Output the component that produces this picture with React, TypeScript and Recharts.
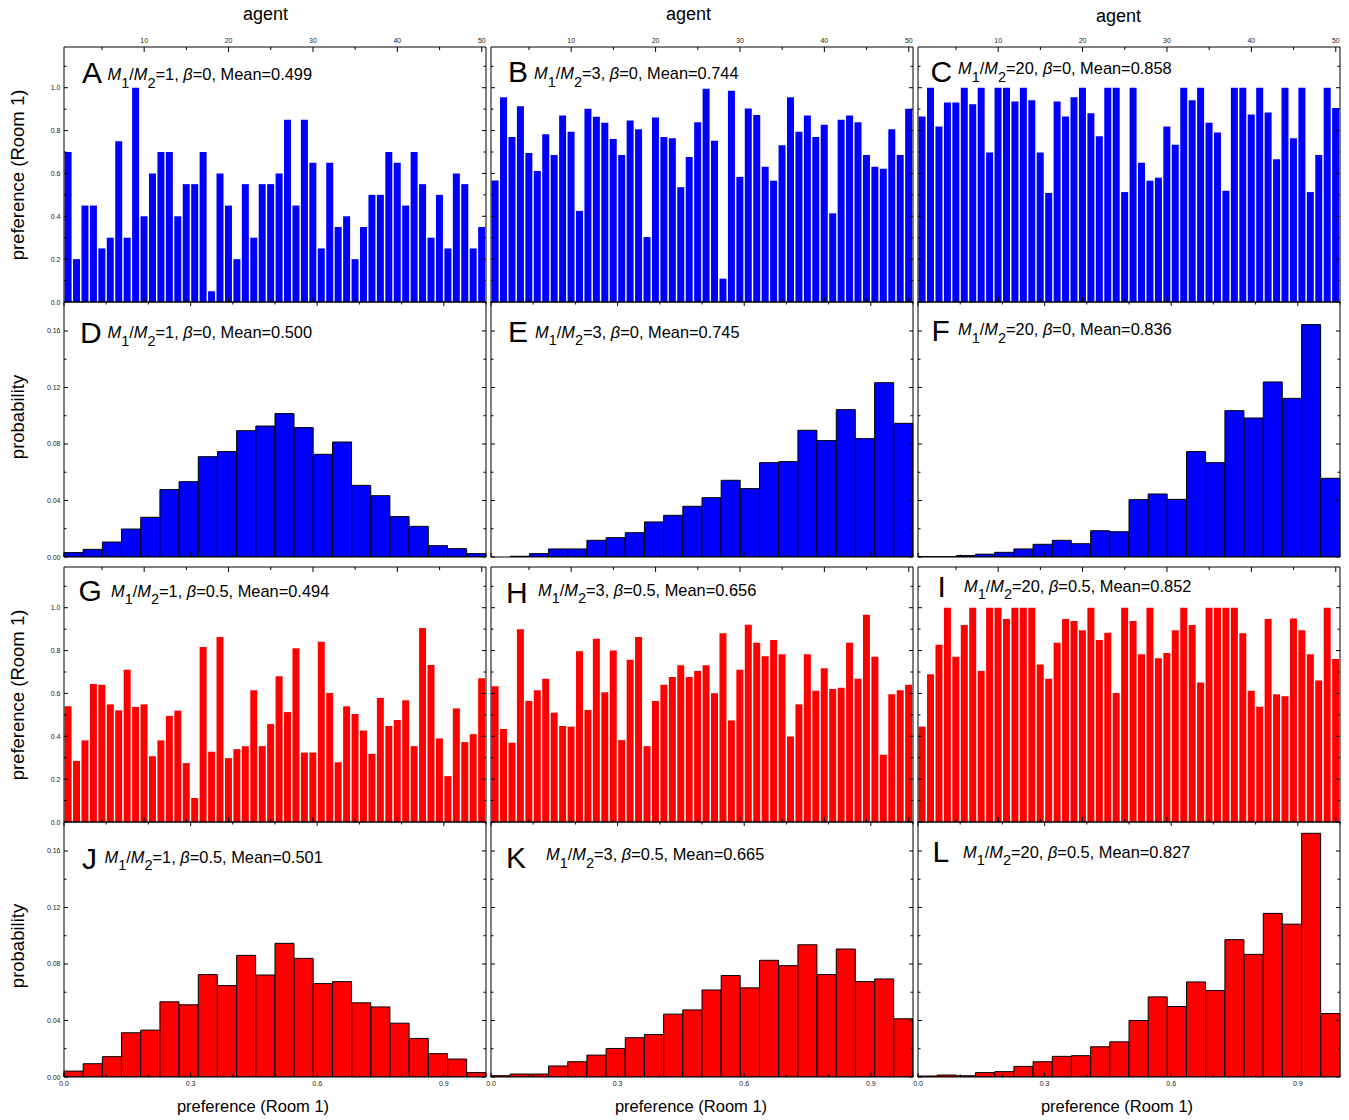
import React from 'react';
import { BarChart, Bar, XAxis, YAxis } from 'recharts';

const FONT = '"Liberation Sans", Arial, Helvetica, sans-serif';
const BLUE = '#0000FF';
const RED = '#FF0000';

// ---------- categories ----------
const agents = [
  1, 2, 3, 4, 5, 6, 7, 8, 9, 10, 11, 12, 13, 14, 15, 16, 17, 18, 19, 20, 21, 22, 23, 24, 25,
  26, 27, 28, 29, 30, 31, 32, 33, 34, 35, 36, 37, 38, 39, 40, 41, 42, 43, 44, 45, 46, 47, 48, 49, 50,
];
const bins = [1, 2, 3, 4, 5, 6, 7, 8, 9, 10, 11, 12, 13, 14, 15, 16, 17, 18, 19, 20, 21, 22];
// preference value at the centre of each histogram bin
const binCenters = [
  0.0227, 0.0682, 0.1136, 0.1591, 0.2045, 0.25, 0.2955, 0.3409, 0.3864, 0.4318, 0.4773, 0.5227, 0.5682, 0.6136,
  0.6591, 0.7045, 0.75, 0.7955, 0.8409, 0.8864, 0.9318, 0.9773,
];

// ---------- preference of each agent (Room 1) ----------
const prefA = [
  0.7, 0.2, 0.45, 0.45, 0.25, 0.3, 0.75, 0.3, 1.0, 0.4, 0.6, 0.7, 0.7, 0.4, 0.55, 0.55, 0.7, 0.05, 0.6, 0.45,
  0.2, 0.55, 0.3, 0.55, 0.55, 0.6, 0.85, 0.45, 0.85, 0.65, 0.25, 0.65, 0.35, 0.4, 0.2, 0.35, 0.5, 0.5, 0.7, 0.65,
  0.45, 0.7, 0.55, 0.3, 0.5, 0.25, 0.6, 0.55, 0.25, 0.35,
];
const prefB = [
  0.567, 0.956, 0.77, 0.914, 0.695, 0.611, 0.783, 0.686, 0.87, 0.795, 0.425, 0.902, 0.864, 0.836, 0.761, 0.686,
  0.847, 0.806, 0.303, 0.861, 0.77, 0.764, 0.536, 0.677, 0.839, 0.995, 0.752, 0.109, 0.986, 0.584, 0.903, 0.873,
  0.631, 0.566, 0.731, 0.956, 0.795, 0.87, 0.77, 0.827, 0.414, 0.85, 0.87, 0.839, 0.686, 0.631, 0.622, 0.806,
  0.686, 0.902,
];
const prefC = [
  0.866, 1, 0.819, 0.931, 0.931, 1, 0.923, 1, 0.698, 1, 1, 0.936, 1, 0.941, 0.698, 0.509, 0.936, 0.866, 0.956, 1,
  0.881, 0.773, 1, 1, 0.513, 1, 0.65, 0.566, 0.58, 0.819, 0.734, 1, 0.941, 1, 0.836, 0.791, 0.519, 1, 1, 0.875, 1,
  0.884, 0.666, 1, 0.764, 1, 0.513, 0.686, 1, 0.905,
];
const prefG = [
  0.54, 0.285, 0.381, 0.644, 0.64, 0.549, 0.521, 0.71, 0.537, 0.549, 0.307, 0.381, 0.495, 0.52, 0.275, 0.112,
  0.817, 0.328, 0.863, 0.298, 0.34, 0.354, 0.615, 0.354, 0.457, 0.68, 0.513, 0.811, 0.324, 0.324, 0.841, 0.602,
  0.279, 0.54, 0.504, 0.427, 0.318, 0.579, 0.448, 0.476, 0.568, 0.354, 0.905, 0.733, 0.39, 0.214, 0.53, 0.373,
  0.41, 0.671,
];
const prefH = [
  0.633, 0.434, 0.37, 0.9, 0.565, 0.615, 0.668, 0.51, 0.448, 0.445, 0.797, 0.523, 0.855, 0.605, 0.8, 0.382,
  0.757, 0.863, 0.354, 0.565, 0.64, 0.677, 0.732, 0.677, 0.705, 0.732, 0.601, 0.881, 0.474, 0.71, 0.92, 0.836,
  0.774, 0.849, 0.783, 0.399, 0.549, 0.783, 0.612, 0.718, 0.621, 0.626, 0.836, 0.668, 0.967, 0.771, 0.314, 0.596,
  0.615, 0.64,
];
const prefI = [
  0.445, 0.69, 0.827, 1, 0.771, 0.919, 1, 0.705, 1, 1, 0.947, 1, 1, 1, 0.735, 0.668, 0.836, 0.947, 0.938, 0.895,
  1, 0.849, 0.883, 0.602, 1, 0.938, 0.783, 1, 0.764, 0.789, 0.895, 1, 0.919, 0.651, 1, 1, 1, 1, 0.881, 0.612,
  0.538, 0.947, 0.596, 0.587, 0.95, 0.895, 0.783, 0.66, 1, 0.761,
];

// ---------- probability histograms (22 bins over 0..1) ----------
const probD = [
  0.0031, 0.0054, 0.0106, 0.0198, 0.0281, 0.0477, 0.0533, 0.071, 0.0746, 0.0894, 0.0927, 0.1015, 0.0916, 0.0727,
  0.0814, 0.0507, 0.0434, 0.0286, 0.0217, 0.008, 0.0059, 0.0024,
];
const probE = [
  0, 0.0005, 0.0024, 0.0057, 0.0057, 0.0118, 0.0137, 0.0172, 0.0248, 0.0295, 0.0359, 0.042, 0.0543, 0.0484,
  0.0668, 0.0675, 0.0897, 0.0824, 0.1043, 0.0838, 0.1234, 0.0946,
];
const probF = [
  0.0002, 0.0002, 0.001, 0.002, 0.0033, 0.0057, 0.009, 0.0118, 0.0094, 0.0186, 0.0179, 0.0406, 0.0446, 0.0408,
  0.0746, 0.0668, 0.1036, 0.0984, 0.1239, 0.1123, 0.1645, 0.0557,
];
const probJ = [
  0.0042, 0.0094, 0.0144, 0.0313, 0.0332, 0.0532, 0.0511, 0.0725, 0.0647, 0.0861, 0.0722, 0.0946, 0.084, 0.0661,
  0.0675, 0.0525, 0.0496, 0.0381, 0.0273, 0.0165, 0.0127, 0.0031,
];
const probK = [
  0.0009, 0.0021, 0.0021, 0.0078, 0.0108, 0.0155, 0.0202, 0.0278, 0.0301, 0.0445, 0.0475, 0.0616, 0.0718, 0.0631,
  0.0826, 0.0788, 0.0936, 0.0725, 0.0906, 0.0675, 0.0694, 0.0412,
];
const probL = [
  0.0007, 0.0014, 0.0009, 0.0031, 0.0038, 0.0075, 0.0108, 0.0146, 0.0151, 0.0214, 0.0249, 0.04, 0.0567, 0.0499,
  0.0673, 0.0612, 0.0972, 0.0868, 0.1158, 0.1082, 0.1725, 0.0449,
];

// ---------- ticks ----------
const prefTicks = [0, 0.1, 0.2, 0.3, 0.4, 0.5, 0.6, 0.7, 0.8, 0.9, 1.0, 1.1];
const prefLabelTicks = [0, 0.2, 0.4, 0.6, 0.8, 1.0];
const probTicks = [0, 0.02, 0.04, 0.06, 0.08, 0.1, 0.12, 0.14, 0.16];
const probLabelTicks = [0, 0.04, 0.08, 0.12, 0.16];
const valTicks = [0, 0.1, 0.2, 0.3, 0.4, 0.5, 0.6, 0.7, 0.8, 0.9, 1.0];
const valLabelTicks = [0, 0.3, 0.6, 0.9];
const agentLabelStep = 10;
const agentTickStep = 5;
const PREF_MAX = 1.19;
const PROB_MAX = 0.1805;

// ---------- panel annotation texts ----------
const panelLetters = ['A', 'B', 'C', 'D', 'E', 'F', 'G', 'H', 'I', 'J', 'K', 'L'];
const massRatios = ['1', '3', '20', '1', '3', '20', '1', '3', '20', '1', '3', '20'];
const betas = ['0', '0', '0', '0', '0', '0', '0.5', '0.5', '0.5', '0.5', '0.5', '0.5'];
const means = ['0.499', '0.744', '0.858', '0.500', '0.745', '0.836', '0.494', '0.656', '0.852', '0.501', '0.665', '0.827'];

// ---------- layout ----------
const PW = 422;
const PH = 255;
const ML = 40;
const MR = 10;
const MT = 20;
const MB = 20;
const colLefts = [64, 491, 918];
const rowTops = [47, 302, 567, 822];

// letter x, letter baseline, text x, text baseline
const annotLayout = [
  [82, 83.3, 107.5, 80],
  [508, 81.7, 534, 79.3],
  [930.5, 81.5, 958, 74.3],
  [80, 343.3, 107.5, 338.3],
  [508, 341.7, 535, 337.7],
  [931.5, 340.7, 958, 335],
  [78.5, 600.7, 111, 596.7],
  [506, 602.7, 538, 595.7],
  [937.5, 596.7, 964, 591.7],
  [82, 869.3, 104.5, 862.7],
  [506, 867.7, 546, 860],
  [932.5, 861.7, 963, 857.7],
];

type PanelDef = { values: number[]; kind: 'pref' | 'prob'; color: string; row: number; col: number };
const panels: PanelDef[] = [
  { values: prefA, kind: 'pref', color: BLUE, row: 0, col: 0 },
  { values: prefB, kind: 'pref', color: BLUE, row: 0, col: 1 },
  { values: prefC, kind: 'pref', color: BLUE, row: 0, col: 2 },
  { values: probD, kind: 'prob', color: BLUE, row: 1, col: 0 },
  { values: probE, kind: 'prob', color: BLUE, row: 1, col: 1 },
  { values: probF, kind: 'prob', color: BLUE, row: 1, col: 2 },
  { values: prefG, kind: 'pref', color: RED, row: 2, col: 0 },
  { values: prefH, kind: 'pref', color: RED, row: 2, col: 1 },
  { values: prefI, kind: 'pref', color: RED, row: 2, col: 2 },
  { values: probJ, kind: 'prob', color: RED, row: 3, col: 0 },
  { values: probK, kind: 'prob', color: RED, row: 3, col: 1 },
  { values: probL, kind: 'prob', color: RED, row: 3, col: 2 },
];

const near = (arr: number[], v: number) => arr.some((a) => Math.abs(a - v) < 1e-9);
const AXIS = { stroke: '#000', strokeWidth: 1 };
const TICK_FILL = '#222';

const yTick = (side: 'left' | 'right', labels: number[], digits: number, show: boolean) => (props: any) => {
  const { x, y, payload } = props;
  const v = Number(payload.value);
  const major = near(labels, v);
  const len = major ? 4 : 2.5;
  const dir = side === 'left' ? 1 : -1;
  return (
    <g>
      <line x1={x} y1={y} x2={x + dir * len} y2={y} stroke="#000" strokeWidth={1} />
      {show && major && side === 'left' ? (
        <text x={x - 3.5} y={y} textAnchor="end" dominantBaseline="central" fontSize={7} fontFamily={FONT} fill={TICK_FILL}>
          {v.toFixed(digits)}
        </text>
      ) : null}
    </g>
  );
};

const agentTick = (side: 'top' | 'bottom', show: boolean) => (props: any) => {
  const { x, y, payload } = props;
  const v = Number(payload.value);
  if (v % agentTickStep !== 0) return <g />;
  const major = v % agentLabelStep === 0;
  const len = major ? 5 : 3;
  const dir = side === 'top' ? 1 : -1;
  return (
    <g>
      <line x1={x} y1={y} x2={x} y2={y + dir * len} stroke="#000" strokeWidth={1} />
      {show && major && side === 'top' ? (
        <text x={x} y={y - 7} textAnchor="middle" dominantBaseline="central" fontSize={7} fontFamily={FONT} fill={TICK_FILL}>
          {v}
        </text>
      ) : null}
    </g>
  );
};

const valTick = (side: 'top' | 'bottom', show: boolean) => (props: any) => {
  const { x, y, payload } = props;
  const v = Number(payload.value);
  const major = near(valLabelTicks, v);
  const len = major ? 4 : 2.5;
  const dir = side === 'top' ? 1 : -1;
  return (
    <g>
      <line x1={x} y1={y} x2={x} y2={y + dir * len} stroke="#000" strokeWidth={1} />
      {show && major && side === 'bottom' ? (
        <text x={x} y={y + 6.5} textAnchor="middle" dominantBaseline="central" fontSize={7} fontFamily={FONT} fill={TICK_FILL}>
          {v.toFixed(1)}
        </text>
      ) : null}
    </g>
  );
};

function Panel({ def }: { def: PanelDef }) {
  const isPref = def.kind === 'pref';
  const data = isPref
    ? agents.map((a, i) => ({ k: a, v: def.values[i] }))
    : bins.map((b, i) => ({ k: b, c: binCenters[i], v: def.values[i] }));
  const left = colLefts[def.col];
  const top = rowTops[def.row];
  const showLeft = def.col === 0;
  const showTop = def.row === 0;
  const showBottom = def.row === 3;
  const yMax = isPref ? PREF_MAX : PROB_MAX;
  const yTicks = isPref ? prefTicks : probTicks;
  const yLabels = isPref ? prefLabelTicks : probLabelTicks;
  const digits = isPref ? 1 : 2;
  return (
    <div style={{ position: 'absolute', left: left - ML, top: top - MT }}>
      <BarChart
        width={PW + ML + MR}
        height={PH + MT + MB}
        data={data}
        margin={{ top: 0, right: 0, bottom: 0, left: 0 }}
        barCategoryGap={isPref ? '7%' : 0}
      >
        {isPref ? (
          <>
            <XAxis
              xAxisId="xb"
              dataKey="k"
              type="category"
              orientation="bottom"
              height={MB}
              interval={0}
              tickSize={0}
              tickMargin={0}
              tickLine={false}
              axisLine={AXIS}
              tick={agentTick('bottom', false)}
            />
            <XAxis
              xAxisId="xt"
              dataKey="k"
              type="category"
              orientation="top"
              height={MT}
              interval={0}
              tickSize={0}
              tickMargin={0}
              tickLine={false}
              axisLine={AXIS}
              tick={agentTick('top', showTop)}
            />
          </>
        ) : (
          <>
            <XAxis xAxisId="xb" dataKey="k" type="category" hide />
            <XAxis
              xAxisId="vb"
              dataKey="c"
              type="number"
              domain={[0, 1]}
              allowDataOverflow
              ticks={valTicks}
              orientation="bottom"
              height={MB}
              interval={0}
              tickSize={0}
              tickMargin={0}
              tickLine={false}
              axisLine={AXIS}
              tick={valTick('bottom', showBottom)}
            />
            <XAxis
              xAxisId="vt"
              dataKey="c"
              type="number"
              domain={[0, 1]}
              allowDataOverflow
              ticks={valTicks}
              orientation="top"
              height={MT}
              interval={0}
              tickSize={0}
              tickMargin={0}
              tickLine={false}
              axisLine={AXIS}
              tick={valTick('top', false)}
            />
          </>
        )}
        <YAxis
          yAxisId="yl"
          type="number"
          orientation="left"
          width={ML}
          domain={[0, yMax]}
          allowDataOverflow
          ticks={yTicks}
          interval={0}
          tickSize={0}
          tickMargin={0}
          tickLine={false}
          axisLine={AXIS}
          tick={yTick('left', yLabels, digits, showLeft)}
        />
        <YAxis
          yAxisId="yr"
          type="number"
          orientation="right"
          width={MR}
          domain={[0, yMax]}
          allowDataOverflow
          ticks={yTicks}
          interval={0}
          tickSize={0}
          tickMargin={0}
          tickLine={false}
          axisLine={AXIS}
          tick={yTick('right', yLabels, digits, false)}
        />
        <Bar
          xAxisId="xb"
          yAxisId="yl"
          dataKey="v"
          fill={def.color}
          stroke={isPref ? 'none' : '#000'}
          strokeWidth={isPref ? 0 : 1}
          isAnimationActive={false}
        />
      </BarChart>
    </div>
  );
}

const agentTitleX = [265.5, 688.5, 1118.5];
const agentTitleY = [19.5, 19.5, 22];
const leftTitles = ['preference (Room 1)', 'probability', 'preference (Room 1)', 'probability'];
const leftTitleY = [175, 417, 695, 946];
const bottomTitleX = [253, 691, 1117];

function Overlay() {
  return (
    <svg
      width={1349}
      height={1120}
      style={{ position: 'absolute', left: 0, top: 0, pointerEvents: 'none' }}
      fontFamily={FONT}
    >
      {agentTitleX.map((x, i) => (
        <text key={'ag' + i} x={x} y={agentTitleY[i]} textAnchor="middle" fontSize={18} fill="#000">
          agent
        </text>
      ))}
      {leftTitles.map((t, i) => (
        <text
          key={'lt' + i}
          transform={`translate(23.5, ${leftTitleY[i]}) rotate(-90)`}
          textAnchor="middle"
          fontSize={18.5}
          fill="#000"
        >
          {t}
        </text>
      ))}
      {bottomTitleX.map((x, i) => (
        <text key={'bt' + i} x={x} y={1112} textAnchor="middle" fontSize={16.5} fill="#000">
          preference (Room 1)
        </text>
      ))}
      {panelLetters.map((L, i) => {
        const [lx, ly, tx, ty] = annotLayout[i];
        return (
          <g key={'an' + i}>
            <text x={lx} y={ly} fontSize={30} fill="#000">
              {L}
            </text>
            <text x={tx} y={ty} fontSize={16.4} fill="#000">
              <tspan fontStyle="italic">M</tspan>
              <tspan fontSize={14.5} dy={7.5}>1</tspan>
              <tspan dy={-7.5}>/</tspan>
              <tspan fontStyle="italic">M</tspan>
              <tspan fontSize={14.5} dy={7.5}>2</tspan>
              <tspan dy={-7.5}>{'=' + massRatios[i] + ', '}</tspan>
              <tspan fontStyle="italic">β</tspan>
              <tspan>{'=' + betas[i] + ', Mean=' + means[i]}</tspan>
            </text>
          </g>
        );
      })}
    </svg>
  );
}

export default function App() {
  return (
    <div style={{ position: 'absolute', left: 0, top: 0, width: 1349, height: 1120, background: '#fff' }}>
      {panels.map((p, i) => (
        <Panel key={i} def={p} />
      ))}
      <Overlay />
    </div>
  );
}
